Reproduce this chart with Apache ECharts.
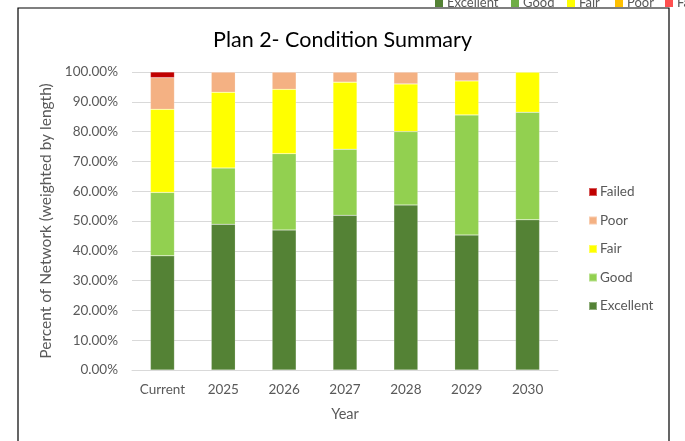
<!DOCTYPE html>
<html>
<head>
<meta charset="utf-8">
<script src="https://cdn.jsdelivr.net/npm/echarts@6/dist/echarts.min.js"></script>
<style>html,body{margin:0;padding:0;background:#fff;}#c{width:685px;height:441px;}</style>
</head>
<body>
<div id="c"></div>
<script>
const categories = ['Current', '2025', '2026', '2027', '2028', '2029', '2030'];
const excellent = [38.3, 48.9, 47.0, 51.9, 55.4, 45.3, 50.4];
const good      = [21.3, 18.9, 25.6, 22.2, 24.6, 40.3, 36.1];
const fair      = [27.9, 25.4, 21.6, 22.5, 16.0, 11.4, 13.5];
const poor      = [10.6, 6.8, 5.8, 3.4, 4.0, 3.0, 0.0];
const failed    = [1.9, 0, 0, 0, 0, 0, 0];
const yTicks = [0, 10, 20, 30, 40, 50, 60, 70, 80, 90, 100];
const topLegendNames = ['Excellent', 'Good', 'Fair', 'Poor', 'Fa'];

const FONT = 'Lato';
const chart = echarts.init(document.getElementById('c'));

function mk(name, data, color) {
  return {
    name: name, type: 'bar', stack: 'all', data: data, barWidth: 24,
    itemStyle: { color: color, borderColor: 'rgba(255,255,255,0.35)', borderWidth: 0.5 },
    emphasis: { disabled: true }
  };
}

const topColors = ['#548235', '#70AD47', '#FFFF00', '#FFC000', '#FF5050'];
const topSqX = [435, 511, 567, 615, 665];
const gTop = [];
topLegendNames.forEach((n, i) => {
  gTop.push({ type: 'rect', shape: { x: topSqX[i], y: -2, width: 8, height: 9 }, style: { fill: topColors[i] }, z: 1 });
  gTop.push({ type: 'text', x: topSqX[i] + 12, y: 3, style: { text: n, font: '13px ' + FONT, fill: '#595959', textVerticalAlign: 'middle' }, z: 1 });
});

chart.setOption({
  animation: false,
  textStyle: { fontFamily: FONT },
  title: {
    text: 'Plan 2- Condition Summary', left: 'center', top: 24,
    textStyle: { fontFamily: FONT, fontSize: 21.5, fontWeight: 'normal', color: '#000' }
  },
  legend: {
    orient: 'vertical', left: 583, top: 180,
    data: ['Failed', 'Poor', 'Fair', 'Good', 'Excellent'],
    icon: 'rect', itemWidth: 8, itemHeight: 8, itemGap: 14.5,
    textStyle: { fontFamily: FONT, fontSize: 13.5, color: '#595959', padding: [0, 0, 0, -2] }
  },
  grid: { left: 132, right: 127, top: 72, bottom: 71 },
  xAxis: {
    type: 'category', data: categories,
    name: 'Year', nameLocation: 'middle', nameGap: 37,
    nameTextStyle: { fontFamily: FONT, fontSize: 14.5, color: '#595959' },
    axisLine: { lineStyle: { color: '#d9d9d9' } },
    axisTick: { show: false },
    axisLabel: { fontFamily: FONT, fontSize: 13.5, color: '#595959', margin: 13 }
  },
  yAxis: {
    type: 'value', min: yTicks[0], max: yTicks[yTicks.length - 1], interval: 10,
    name: 'Percent of Network (weighted by length)', nameLocation: 'middle', nameGap: 70,
    nameTextStyle: { fontFamily: FONT, fontSize: 15.5, color: '#595959' },
    axisLine: { show: false }, axisTick: { show: false },
    axisLabel: { fontFamily: FONT, fontSize: 13.5, color: '#595959', margin: 14, formatter: v => v.toFixed(2) + '%' },
    splitLine: { lineStyle: { color: '#d9d9d9' } }
  },
  series: [
    mk('Excellent', excellent, '#548235'),
    mk('Good', good, '#92D050'),
    mk('Fair', fair, '#FFFF00'),
    mk('Poor', poor, '#F4B183'),
    mk('Failed', failed, '#C00000')
  ],
  graphic: gTop.concat([
    { type: 'rect', shape: { x: 18, y: 8, width: 651, height: 445 }, style: { fill: '#fff', stroke: '#000', lineWidth: 1.2 }, z: -10, silent: true }
  ])
});
</script>
</body>
</html>
